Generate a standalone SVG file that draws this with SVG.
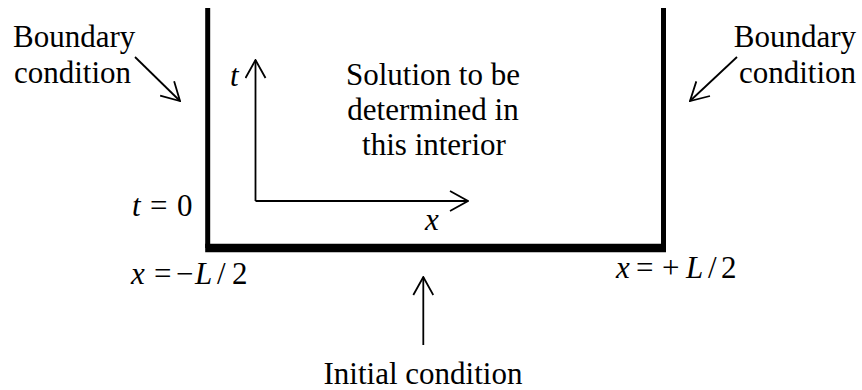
<svg xmlns="http://www.w3.org/2000/svg" width="862" height="390" viewBox="0 0 862 390">
<style>
text{font-family:"Liberation Serif","Times New Roman",serif;font-size:31px;fill:#000}
.m{font-style:italic}
.thin{stroke:#000;stroke-width:1.8;fill:none;stroke-linecap:butt}
.bar{stroke:#000;fill:none}
</style>
<defs>
<marker id="ah" viewBox="0 0 20 22" refX="19" refY="11" markerWidth="20" markerHeight="22" markerUnits="userSpaceOnUse" orient="auto">
<path d="M1,1 L19,11 L1,21" fill="none" stroke="#000" stroke-width="1.8"/>
</marker>
</defs>
<g id="domain">
<path class="bar" d="M207.7,8 V248" stroke-width="5"/>
<path class="bar" d="M663.5,8 V248" stroke-width="5"/>
<path class="bar" d="M205.2,248 H666" stroke-width="8.5"/>
</g>
<g id="connectors">
<path class="thin" d="M135,57 L180,101" marker-end="url(#ah)"/>
<path class="thin" d="M737,57 L690,101" marker-end="url(#ah)"/>
<path class="thin" d="M255.5,201 V60" marker-end="url(#ah)"/>
<path class="thin" d="M255.5,201 H468" marker-end="url(#ah)"/>
<path class="thin" d="M423.3,345 V277" marker-end="url(#ah)"/>
</g>
<g id="left-bc">
<text x="13" y="47">Boundary</text>
<text x="14" y="83">condition</text>
</g>
<g id="right-bc">
<text x="856" y="47" text-anchor="end">Boundary</text>
<text x="856" y="83" text-anchor="end">condition</text>
</g>
<g id="interior">
<text x="433" y="85" text-anchor="middle">Solution to be</text>
<text x="433" y="120" text-anchor="middle">determined in</text>
<text x="434" y="155" text-anchor="middle">this interior</text>
</g>
<g id="axis-labels">
<text class="m" x="230" y="86">t</text>
<text class="m" x="425" y="230">x</text>
</g>
<g id="t0">
<text x="132" y="216"><tspan class="m">t</tspan><tspan x="150">=</tspan><tspan x="177">0</tspan></text>
</g>
<g id="xleft">
<text x="131" y="284"><tspan class="m">x</tspan><tspan x="154">=</tspan><tspan x="176">−</tspan><tspan class="m" x="195">L</tspan><tspan x="217">/</tspan><tspan x="232">2</tspan></text>
</g>
<g id="xright">
<text x="616" y="278"><tspan class="m">x</tspan><tspan x="636">=</tspan><tspan x="662">+</tspan><tspan class="m" x="686">L</tspan><tspan x="708">/</tspan><tspan x="721">2</tspan></text>
</g>
<g id="initial">
<text x="423" y="384" text-anchor="middle">Initial condition</text>
</g>
</svg>
